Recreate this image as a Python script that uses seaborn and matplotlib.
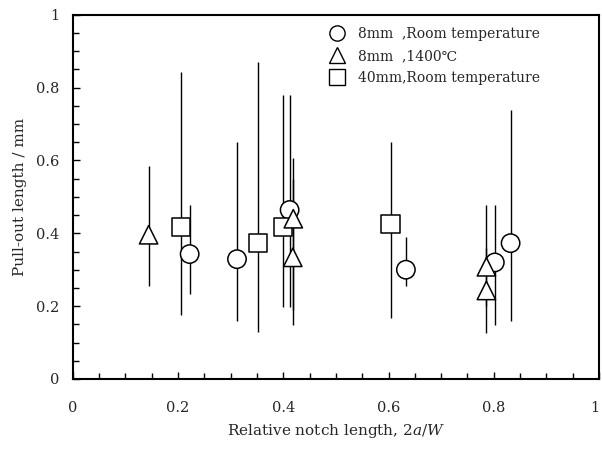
import matplotlib
matplotlib.use("Agg")
import matplotlib.pyplot as plt
from matplotlib.lines import Line2D
from matplotlib.ticker import MultipleLocator
import numpy as np
import pandas as pd
import seaborn as sns

# 8mm, room temperature (circles)
circ_x = [0.222, 0.312, 0.412, 0.633, 0.802, 0.832]
circ_y = [0.343, 0.329, 0.464, 0.300, 0.320, 0.373]
circ_lo = [0.233, 0.160, 0.197, 0.256, 0.148, 0.160]
circ_hi = [0.477, 0.650, 0.780, 0.389, 0.478, 0.739]

# 8mm, 1400C (triangles)
tri_x = [0.144, 0.419, 0.418, 0.786, 0.786]
tri_y = [0.396, 0.440, 0.334, 0.308, 0.243]
tri_lo = [0.254, 0.148, 0.190, 0.200, 0.125]
tri_hi = [0.586, 0.606, 0.550, 0.478, 0.360]

# 40mm, room temperature (squares)
sq_x = [0.205, 0.352, 0.399, 0.604]
sq_y = [0.417, 0.373, 0.418, 0.426]
sq_lo = [0.176, 0.130, 0.197, 0.167]
sq_hi = [0.844, 0.870, 0.780, 0.652]

labels = ["8mm  ,Room temperature", "8mm  ,1400\u2103", "40mm,Room temperature"]
markers = {labels[0]: "o", labels[1]: "^", labels[2]: "s"}

# drawing order: circles, then squares, triangles on top
df = pd.concat([
    pd.DataFrame({"x": circ_x, "y": circ_y, "lo": circ_lo, "hi": circ_hi, "series": labels[0]}),
    pd.DataFrame({"x": sq_x, "y": sq_y, "lo": sq_lo, "hi": sq_hi, "series": labels[2]}),
    pd.DataFrame({"x": tri_x, "y": tri_y, "lo": tri_lo, "hi": tri_hi, "series": labels[1]}),
], ignore_index=True)

sns.set_style("ticks")
plt.rcParams["font.family"] = ["DejaVu Serif", "DejaVu Sans"]
plt.rcParams["mathtext.fontset"] = "custom"
plt.rcParams["mathtext.it"] = "DejaVu Serif:italic"
plt.rcParams["mathtext.rm"] = "DejaVu Serif"

fig = plt.figure(figsize=(6.02, 4.49), dpi=100)
ax = fig.add_axes([0.121, 0.156, 0.874, 0.811])

# error bars (vertical lines, no caps)
ax.vlines(df["x"], df["lo"], df["hi"], color="black", linewidth=1.0, zorder=1)

sns.scatterplot(data=df, x="x", y="y", style="series", markers=markers,
                s=175, color="white", edgecolor="black", linewidth=1.1,
                legend=False, ax=ax, zorder=3)

ax.set_xlim(0, 1)
ax.set_ylim(0, 1)
ticks = [0, 0.2, 0.4, 0.6, 0.8, 1.0]
tick_labels = ["0", "0.2", "0.4", "0.6", "0.8", "1"]
ax.set_xticks(ticks, tick_labels)
ax.set_yticks(ticks, tick_labels)
ax.xaxis.set_minor_locator(MultipleLocator(0.05))
ax.yaxis.set_minor_locator(MultipleLocator(0.05))
ax.tick_params(which="both", direction="in", top=False, right=False,
               width=1.0, labelsize=10.5, color="black")
ax.tick_params(which="major", length=5, pad=16)
ax.tick_params(which="minor", length=4)
ax.tick_params(axis="y", which="major", pad=10)
for sp in ax.spines.values():
    sp.set_linewidth(1.5)
    sp.set_color("black")

# keep the "1" at the right edge inside the figure
for t in ax.get_xticklabels():
    if t.get_text() == "1":
        t.set_horizontalalignment("right")

ax.set_xlabel(r"Relative notch length, $\mathit{2a/W}$", fontsize=11, labelpad=5)
ax.set_ylabel("Pull-out length / mm", fontsize=11, labelpad=6)

handles = [Line2D([], [], linestyle="none", marker=markers[l], markersize=11,
                  markerfacecolor="white", markeredgecolor="black",
                  markeredgewidth=1.0) for l in labels]
ax.legend(handles, labels, loc="upper left", bbox_to_anchor=(0.462, 1.0),
          frameon=False, fontsize=10, handletextpad=0.9, labelspacing=0.55,
          handlelength=1.2)

fig.savefig("out.png", dpi=100)
